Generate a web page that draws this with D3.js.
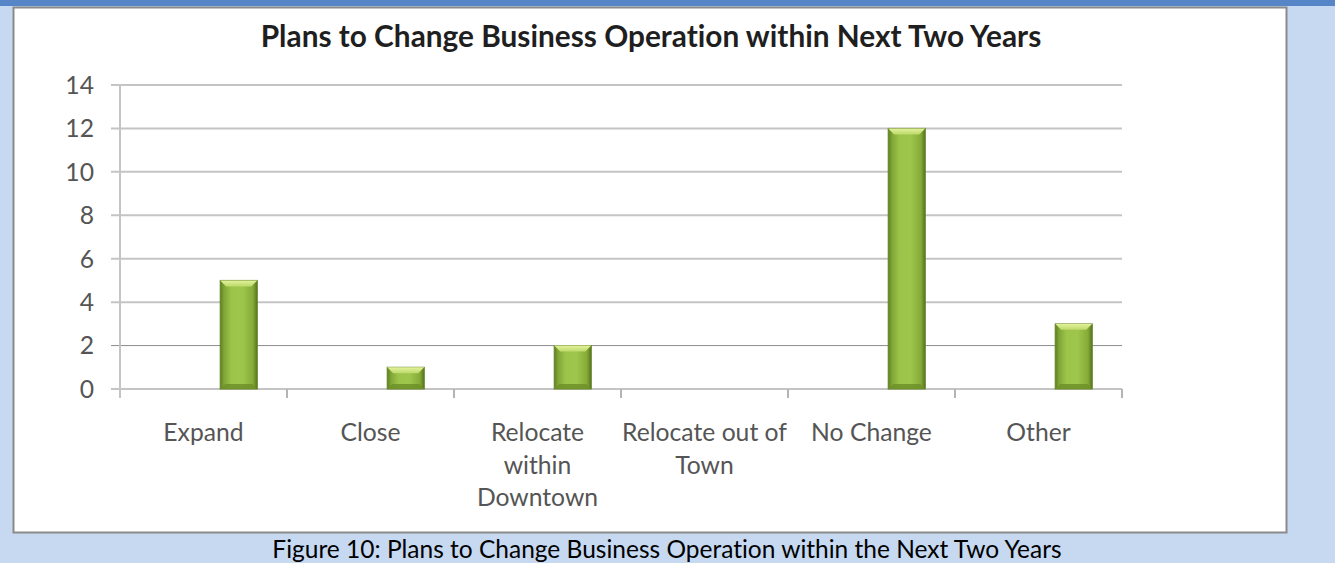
<!DOCTYPE html>
<html>
<head>
<meta charset="utf-8">
<script src="https://cdn.jsdelivr.net/npm/d3@7/dist/d3.min.js"></script>
<style>
  html, body { margin: 0; padding: 0; background: #c6d9f1; }
  svg { display: block; }
  text { font-variant-ligatures: none; }
</style>
</head>
<body>
<svg id="chart" width="1335" height="563"></svg>
<script>
// Survey responses: planned change to business operation
const categories = ["Expand", "Close", "Relocate within Downtown", "Relocate out of Town", "No Change", "Other"];
const categoryLines = [["Expand"], ["Close"], ["Relocate", "within", "Downtown"], ["Relocate out of", "Town"], ["No Change"], ["Other"]];
const counts = [5, 1, 2, 0, 12, 3];
const yTicks = [0, 2, 4, 6, 8, 10, 12, 14];
const chartTitle = "Plans to Change Business Operation within Next Two Years";
const caption = "Figure 10: Plans to Change Business Operation within the Next Two Years";

const svg = d3.select("#chart");
const W = 1335, H = 563;
const font = "Lato, 'Open Sans', sans-serif";
const labelSize = 24.7;

// page background and top band
svg.append("rect").attr("width", W).attr("height", H).attr("fill", "#c6d9f1");
svg.append("rect").attr("width", W).attr("height", 6).attr("fill", "#5686c8");

// chart frame
svg.append("rect")
  .attr("x", 13.5).attr("y", 7.5).attr("width", 1273).attr("height", 525)
  .attr("fill", "#ffffff").attr("stroke", "#8a8a8a").attr("stroke-width", 2);

const plot = { left: 120, right: 1122, top: 85, bottom: 389 };

const x = d3.scaleBand().domain(categories).range([plot.left, plot.right]).padding(0);
const y = d3.scaleLinear().domain([0, 14]).range([plot.bottom, plot.top]);

// gradients for the bevelled bars
const defs = svg.append("defs");
const body = defs.append("linearGradient").attr("id", "barBody").attr("x1", 0).attr("x2", 1).attr("y1", 0).attr("y2", 0);
[[0, "#5d7d22"], [0.1, "#7fa535"], [0.3, "#9cc44b"], [0.6, "#9ec64c"], [0.88, "#86ab38"], [1, "#56741d"]]
  .forEach(([o, c]) => body.append("stop").attr("offset", o).attr("stop-color", c));
const cap = defs.append("linearGradient").attr("id", "barCap").attr("x1", 0).attr("x2", 0).attr("y1", 0).attr("y2", 1);
[[0, "#e4f29c"], [1, "#bcd96a"]].forEach(([o, c]) => cap.append("stop").attr("offset", o).attr("stop-color", c));

// horizontal gridlines
svg.append("g").selectAll("line").data(yTicks).join("line")
  .attr("x1", plot.left - 9).attr("x2", plot.right)
  .attr("y1", d => y(d)).attr("y2", d => y(d))
  .attr("stroke", d => d === 2 ? "#8c8c8c" : "#c4c4c4")
  .attr("stroke-width", d => d === 2 ? 1 : 2);

// y axis line
svg.append("line")
  .attr("x1", plot.left).attr("x2", plot.left)
  .attr("y1", plot.top - 1).attr("y2", plot.bottom + 9)
  .attr("stroke", "#c4c4c4").attr("stroke-width", 2);

// y axis labels
const yAxis = d3.axisLeft(y).tickValues(yTicks).tickSize(0).tickPadding(0);
const gy = svg.append("g").attr("transform", `translate(${plot.left - 26},0)`).call(yAxis);
gy.select(".domain").remove();
gy.selectAll("text")
  .attr("font-family", font).attr("font-size", labelSize).attr("fill", "#555555")
  .attr("dy", "0.34em");

// x axis: baseline and category boundary ticks
const xAxis = d3.axisBottom(x).tickSize(0).tickFormat("");
const gx = svg.append("g").attr("transform", `translate(0,${plot.bottom})`).call(xAxis);
gx.select(".domain").remove();
svg.append("line")
  .attr("x1", plot.left - 9).attr("x2", plot.right)
  .attr("y1", plot.bottom).attr("y2", plot.bottom)
  .attr("stroke", "#c4c4c4").attr("stroke-width", 2);
const bounds = categories.map(c => x(c)).concat([x(categories[categories.length - 1]) + x.bandwidth()]);
svg.append("g").selectAll("line").data(bounds.slice(1)).join("line")
  .attr("x1", d => d).attr("x2", d => d)
  .attr("y1", plot.bottom).attr("y2", plot.bottom + 9)
  .attr("stroke", "#b4b4b4").attr("stroke-width", 2);

// category labels
const labels = svg.append("g");
categories.forEach((c, i) => {
  const cx = x(c) + x.bandwidth() / 2;
  const t = labels.append("text")
    .attr("x", cx).attr("y", 441)
    .attr("text-anchor", "middle")
    .attr("font-family", font).attr("font-size", labelSize).attr("fill", "#555555");
  categoryLines[i].forEach((l, j) => t.append("tspan").attr("x", cx).attr("dy", j ? 32.5 : 0).text(l));
});

// bars
const barOffset = x.bandwidth() * 0.6;
const barW = x.bandwidth() * 0.222;
const bars = svg.append("g").selectAll("g").data(categories.map((c, i) => ({ c, v: counts[i] })).filter(d => d.v > 0)).join("g");
bars.append("rect")
  .attr("x", d => x(d.c) + barOffset).attr("y", d => y(d.v))
  .attr("width", barW).attr("height", d => y(0) - y(d.v))
  .attr("fill", "url(#barBody)").attr("stroke", "#64842a").attr("stroke-width", 1);
// top bevel
bars.append("path")
  .attr("d", d => {
    const x0 = x(d.c) + barOffset, x1 = x0 + barW, t = y(d.v), b = 6;
    return `M${x0},${t}L${x1},${t}L${x1 - b},${t + b}L${x0 + b},${t + b}Z`;
  })
  .attr("fill", "url(#barCap)");
// bottom bevel
bars.append("path")
  .attr("d", d => {
    const x0 = x(d.c) + barOffset, x1 = x0 + barW, bt = y(0), b = 5;
    return `M${x0},${bt}L${x1},${bt}L${x1 - b},${bt - b}L${x0 + b},${bt - b}Z`;
  })
  .attr("fill", "#6f9029").attr("opacity", 0.85);

// title
svg.append("text")
  .attr("x", 651).attr("y", 47).attr("text-anchor", "middle")
  .attr("font-family", font).attr("font-weight", 700).attr("font-size", 29.8)
  .attr("fill", "#1f1f1f").text(chartTitle);

// figure caption
svg.append("text")
  .attr("x", 667).attr("y", 558).attr("text-anchor", "middle")
  .attr("font-family", font).attr("font-size", 24.5)
  .attr("fill", "#000000").text(caption);
</script>
</body>
</html>
